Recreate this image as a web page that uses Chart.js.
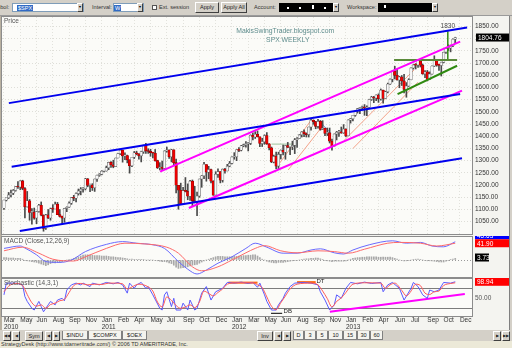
<!DOCTYPE html>
<html><head><meta charset="utf-8"><title>SPX Weekly</title>
<script src="https://cdn.jsdelivr.net/npm/chart.js@4.4.1/dist/chart.umd.min.js"></script>
<style>
*{box-sizing:border-box}
html,body{margin:0;padding:0;width:512px;height:348px;overflow:hidden;background:#d4d0c8;font-family:"Liberation Sans",Arial,sans-serif;color:#222}
.a{position:absolute}
.lbl{position:absolute;top:0;height:15px;line-height:15px;font-size:5.6px;white-space:nowrap;color:#333}
.box{position:absolute;top:3px;height:9px;border:1px solid #7f9db9;background:#fff}
.sel{position:absolute;top:1px;height:6px;background:#316ac5;color:#fff;font-size:5.6px;line-height:6px;padding:0 1px;white-space:nowrap}
.dd{position:absolute;top:3px;width:6px;height:9px;background:#d4d0c8;border:1px solid;border-color:#fff #404040 #404040 #fff;font-size:3.5px;line-height:7px;text-align:center;color:#000}
.btn{position:absolute;height:10px;background:#d4d0c8;border:1px solid;border-color:#fff #404040 #404040 #fff;font-size:5.6px;line-height:8px;text-align:center;color:#222;white-space:nowrap}
.tab{position:absolute;top:331px;height:9px;background:#f4f3ee;border:1px solid #808080;border-top:none;font-size:5.6px;line-height:8px;text-align:center;color:#222;white-space:nowrap}
.blk{position:absolute;top:3px;height:9px;background:#000}
.wd{position:absolute;top:3px;width:2px;height:2px;background:#fff}
canvas{position:absolute;left:0}
</style></head><body>
<div class="a" style="left:0;top:0;width:512px;height:16px;background:#d4d0c8;border-bottom:1px solid #9a9a9a"></div>
<div class="lbl" style="left:-11px">Symbol:</div>
<div class="box" style="left:12px;width:72px"><div class="sel" style="left:4px">$SPX</div></div>
<div class="dd" style="left:77px">&#9660;</div>
<div class="lbl" style="left:92px">Interval:</div>
<div class="box" style="left:113px;width:31px"><div class="sel" style="left:0">W</div></div>
<div class="dd" style="left:137px">&#9660;</div>
<div class="a" style="left:152px;top:5px;width:5px;height:5px;background:#fff;border:1px solid #555"></div>
<div class="lbl" style="left:159px">Ext. session</div>
<div class="btn" style="left:195px;top:2px;width:24px;height:11px;line-height:9px">Apply</div>
<div class="btn" style="left:221px;top:2px;width:26px;height:11px;line-height:9px">Apply All</div>
<div class="lbl" style="left:254px">Account:</div>
<div class="blk" style="left:279px;width:54px"><div class="wd" style="left:8px;top:4px"></div><div class="wd" style="left:20px;top:4px"></div><div class="wd" style="left:33px;top:2px;height:4px"></div><div class="wd" style="left:45px;top:4px"></div></div>
<div class="dd" style="left:333px">&#9660;</div>
<div class="lbl" style="left:347px">Workspace:</div>
<div class="blk" style="left:378px;width:54px"><div class="wd" style="left:6px;top:2px;height:3px"></div></div>
<div class="dd" style="left:432px">&#9660;</div>

<div class="a" style="left:0;top:16px;width:512px;height:314px;background:#f4f4f0"></div>
<div class="a" style="left:0;top:16px;width:2px;height:314px;background:#b8b0a0"></div>
<div class="a" style="left:509px;top:16px;width:3px;height:314px;background:#d4d0c8;border-left:1px solid #808080"></div>
<canvas id="cPrice" width="509" height="220" style="top:16px"></canvas>
<canvas id="cMacd" width="509" height="42" style="top:236px"></canvas>
<canvas id="cSto" width="509" height="52" style="top:278px"></canvas>

<div class="a" style="left:0;top:330px;width:512px;height:11px;background:#d4d0c8"></div>
<div class="btn" style="left:3px;top:331px;width:8px;font-size:3.5px">&#9664;&#9664;</div>
<div class="btn" style="left:12px;top:331px;width:8px;font-size:3.5px">&#9664;</div>
<div class="btn" style="left:25px;top:331px;width:18px">Sym</div>
<div class="btn" style="left:45px;top:331px;width:7px;font-size:3.5px">&#9664;</div>
<div class="btn" style="left:53px;top:331px;width:7px;font-size:3.5px">&#9654;</div>
<div class="tab" style="left:62px;width:26px">$INDU</div>
<div class="tab" style="left:88px;width:34px">$COMPX</div>
<div class="tab" style="left:122px;width:25px">$OEX</div>
<div class="btn" style="left:257px;top:331px;width:16px">Inv</div>
<div class="btn" style="left:274px;top:331px;width:8px;font-size:3.5px">&#9664;</div>
<div class="btn" style="left:283px;top:331px;width:8px;font-size:3.5px">&#9654;</div>
<div class="tab" style="left:293px;width:11px">D</div>
<div class="tab" style="left:304px;width:12px">3</div>
<div class="tab" style="left:316px;width:12px">5</div>
<div class="tab" style="left:328px;width:15px">10</div>
<div class="tab" style="left:343px;width:14px">15</div>
<div class="tab" style="left:357px;width:13px">30</div>
<div class="tab" style="left:370px;width:13px">60</div>
<div class="btn" style="left:493px;top:331px;width:8px;font-size:3.5px">&#9654;</div>
<div class="btn" style="left:502px;top:331px;width:8px;font-size:3.5px">&#9654;&#9654;</div>
<div class="a" style="left:0;top:341px;width:512px;height:7px;background:#ece9d8;font-size:5.5px;line-height:7px;padding-left:1px;color:#333;white-space:nowrap">StrategyDesk (http://www.tdameritrade.com/) &copy; 2006 TD AMERITRADE, Inc.</div>

<script>
// ---------- DATA (weekly SPX, week 0 = first week of Mar 2010) ----------
const opens=[1105,1138,1148,1160,1167,1178,1194,1192,1217,1186,
1111,1136,1088,1089,1065,1092,1117,1077,1023,1078,
1065,1103,1102,1122,1079,1072,1065,1104,1110,1126,
1149,1146,1165,1176,1183,1185,1226,1199,1200,1189,
1225,1240,1244,1257,1258,1271,1293,1283,1276,1311,
1329,1343,1320,1321,1304,1279,1314,1332,1328,1320,
1337,1364,1340,1338,1333,1331,1300,1271,1271,1268,
1340,1344,1316,1345,1292,1199,1179,1124,1177,1174,
1154,1216,1136,1131,1155,1225,1238,1284,1253,1264,
1216,1159,1244,1255,1220,1265,1258,1278,1289,1315,
1316,1345,1343,1361,1366,1370,1371,1404,1397,1408,
1398,1370,1378,1403,1369,1353,1295,1318,1278,1326,
1343,1335,1362,1355,1357,1363,1386,1391,1406,1418,
1411,1407,1438,1466,1460,1441,1461,1429,1433,1412,
1414,1380,1360,1409,1416,1418,1414,1430,1402,1466,
1472,1486,1503,1513,1518,1520,1516,1518,1551,1561,
1557,1569,1553,1589,1555,1582,1614,1634,1667,1650,
1631,1643,1627,1592,1606,1632,1680,1692,1692,1709,
1691,1656,1664,1633,1655,1688,1710,1692,1690,1703,
1745,1760,1762,1771,1798];
const highs=[1139,1150,1170,1180,1182,1195,1214,1218,1220,1190,
1174,1141,1104,1106,1093,1121,1131,1078,1080,1100,
1106,1120,1130,1129,1100,1073,1105,1111,1131,1149,
1158,1168,1184,1190,1190,1228,1227,1204,1206,1225,
1241,1247,1259,1260,1278,1294,1296,1302,1311,1330,
1344,1343,1332,1323,1304,1314,1338,1339,1329,1339,
1364,1371,1349,1347,1334,1346,1302,1292,1298,1341,
1356,1345,1347,1345,1307,1199,1208,1191,1231,1205,
1220,1221,1195,1171,1225,1239,1293,1284,1277,1266,
1218,1255,1267,1255,1266,1269,1285,1297,1316,1333,
1345,1354,1363,1368,1378,1375,1406,1414,1419,1422,
1398,1392,1406,1415,1370,1356,1323,1335,1335,1344,
1364,1363,1375,1357,1380,1391,1395,1407,1419,1427,
1414,1438,1474,1467,1461,1470,1465,1464,1434,1434,
1434,1389,1410,1420,1424,1438,1448,1431,1468,1473,
1486,1503,1514,1518,1524,1530,1525,1552,1564,1564,
1570,1574,1594,1589,1585,1618,1636,1668,1687,1674,
1646,1649,1654,1620,1636,1681,1694,1698,1710,1709,
1696,1669,1670,1664,1689,1730,1711,1696,1704,1745,
1760,1775,1774,1799,1806];
const lows=[1100,1135,1145,1152,1161,1175,1186,1181,1181,1066,
1110,1056,1040,1060,1042,1089,1074,1011,1018,1063,
1056,1088,1102,1079,1069,1040,1048,1091,1109,1121,
1136,1131,1159,1160,1171,1180,1193,1173,1178,1174,
1215,1236,1242,1254,1257,1263,1272,1271,1276,1311,
1325,1294,1304,1291,1249,1276,1309,1324,1306,1295,
1330,1330,1330,1318,1311,1298,1268,1262,1263,1266,
1335,1309,1295,1283,1168,1101,1120,1122,1172,1140,
1137,1114,1127,1075,1150,1191,1226,1216,1226,1209,
1158,1159,1231,1209,1212,1249,1258,1275,1287,1306,
1300,1337,1340,1357,1355,1340,1366,1385,1391,1397,
1358,1358,1367,1367,1344,1292,1291,1267,1266,1307,
1324,1306,1354,1325,1345,1329,1354,1391,1397,1398,
1397,1397,1425,1449,1431,1433,1425,1428,1403,1403,
1373,1343,1360,1385,1399,1412,1412,1398,1402,1454,
1463,1482,1495,1493,1513,1486,1485,1514,1547,1538,
1546,1539,1548,1536,1555,1578,1613,1623,1635,1630,
1599,1608,1578,1560,1604,1632,1675,1676,1682,1684,
1654,1640,1627,1633,1655,1686,1687,1670,1647,1701,
1740,1752,1746,1767,1780];
const closes=[1138.7,1150.0,1159.9,1166.6,1178.1,1194.4,1192.1,1217.3,1186.7,1110.9,
1135.7,1087.7,1089.4,1064.9,1091.6,1117.5,1076.8,1022.6,1078.0,1064.9,
1102.7,1101.6,1121.6,1079.3,1071.7,1064.6,1104.5,1109.6,1125.6,1148.7,
1146.2,1165.2,1176.2,1183.1,1183.3,1225.9,1199.2,1199.7,1189.4,1224.7,
1240.4,1243.9,1256.8,1257.6,1271.5,1293.2,1283.4,1276.3,1310.9,1329.2,
1343.0,1319.9,1321.2,1304.3,1279.2,1313.8,1332.4,1328.2,1319.7,1337.4,
1363.6,1340.2,1337.8,1333.3,1331.1,1300.2,1271.0,1271.5,1268.5,1339.7,
1343.8,1316.1,1345.0,1292.3,1199.4,1178.8,1123.5,1176.8,1174.0,1154.2,
1216.0,1136.4,1131.4,1155.5,1224.6,1238.3,1285.1,1253.2,1263.9,1216.0,
1158.7,1244.3,1255.2,1219.7,1265.3,1257.6,1277.8,1289.1,1315.4,1316.3,
1344.9,1342.6,1361.2,1365.7,1369.6,1370.9,1404.2,1397.1,1408.5,1398.1,
1370.3,1378.5,1403.4,1369.1,1353.4,1295.2,1317.8,1278.0,1325.7,1342.8,
1335.0,1362.2,1354.7,1356.8,1362.7,1386.0,1391.0,1405.9,1418.2,1411.1,
1406.6,1437.9,1465.8,1460.2,1440.7,1460.9,1428.6,1433.2,1411.9,1414.2,
1379.9,1359.9,1409.2,1416.2,1418.1,1413.6,1430.2,1402.4,1466.5,1472.1,
1486.0,1503.0,1513.2,1517.9,1519.8,1515.6,1518.2,1551.2,1560.7,1556.9,
1569.2,1553.3,1588.9,1555.3,1582.2,1614.4,1633.7,1667.5,1649.6,1630.7,
1643.4,1626.7,1592.4,1606.3,1631.9,1680.2,1692.1,1691.7,1709.7,1691.4,
1655.8,1663.5,1633.0,1655.2,1688.0,1709.9,1691.8,1690.5,1703.2,1744.5,
1759.8,1761.6,1770.6,1798.2,1804.76];

const priceTicks=[1050,1100,1150,1200,1250,1300,1350,1400,1450,1500,1550,1600,1650,1700,1750,1800,1850];
const tickWeeks=[0,7,14,21,28,35,42,49,56,63,70,77,84,91,98,105,112,119,126,133,140,147,154,161,168,175,182,189,196];
const tickMonths=['Mar','May','Jun','Aug','Sep','Nov','Jan','Feb','Apr','May','Jul','Sep','Oct','Dec','Jan','Mar','May','Jun','Aug','Sep','Nov','Jan','Feb','Apr','Jun','Jul','Sep','Oct','Dec'];
const tickYears=['2010','','','','','','2011','','','','','','','','2012','','','','','','','2013','','','','','','',''];

// trend lines drawn on the chart: [week, price]
const blueUpper=[[2.1,1536],[199.1,1846]];
const blueMiddle=[[3.3,1275],[196.1,1573]];
const blueLower=[[6.8,1012],[196.9,1310]];
const magentaUpper=[[67.1,1255],[196.1,1788]];
const magentaLower=[[79.5,1106],[196.9,1587]];
const greenRising=[[169.2,1573],[194.8,1689]];
const greenFlat=[[167.7,1713],[194.8,1713]];
const greenTarget=[[190.8,1713],[190.8,1830]];
const salmonA1=[[117.9,1282],[132.1,1467]];
const salmonA2=[[122.2,1262],[136.3,1434]];
const salmonB1=[[146.4,1385],[176.3,1672]];
const salmonB2=[[150,1350],[178,1622]];
const paleGreenFlat=[[115,1368],[125.6,1368]];
const grayDown=[[135,1467],[140.5,1413]];

// MACD (12,26,9): [week, value]
const macdLine=[[0,29],[7,35],[9,30],[14,13],[18,-4],[24,-6],[29,0],[35,21],[44,39],[51,46],[57,42],[64,38],[69,29],[75,-4],[79,-23],[83,-35],[87,-25],[92,-8],[98,8],[104,29],[108,42],[113,32],[120,17],[126,17],[132,25],[136,28],[142,18],[146,15],[150,25],[157,38],[167,48],[173,42],[179,44],[184,35],[189,33],[194,45.6]];
const macdSignal=[[0,23],[8,32],[15,17],[21,2],[30,-2.5],[35,8],[44,29],[52,42],[61,40],[70,32],[75,17],[81,-17],[85,-27],[92,-17],[98,0],[104,18],[108,29],[112,36],[119,23],[126,18],[135,23],[142,21],[148,17],[155,27],[165,42],[170,44],[179,42],[186,35],[194,41.9]];
const macdHist=[6,6,5,5,5,4,4,
4,2,-1,-2,-3,-4,-5,
-6,-8,-10,-12,-14,-12,-9,
-7,-7,-6,-6,-4,-2,0,
1,2,4,6,8,10,12,
13,13,12,12,11,11,11,
10,10,10,9,8,8,7,
6,6,5,4,3,2,2,
1,1,1,1,1,0,0,
0,0,-1,-2,-3,-4,-4,
-5,-7,-9,-13,-18,-21,-20,
-19,-18,-17,-15,-13,-12,-11,
-8,-5,-2,0,2,4,6,
8,9,9,9,8,8,8,
8,9,9,10,10,11,11,
12,12,13,13,10,6,2,
0,-3,-5,-6,-7,-7,-6,
-6,-6,-5,-4,-3,-2,-1,
-1,0,1,2,3,3,4,
4,5,5,3,1,-1,-2,
-3,-4,-3,-3,-3,-3,-3,
-2,0,2,4,5,6,6,
7,7,8,8,8,8,8,
7,7,7,7,7,7,6,
4,2,0,-1,-2,-2,-1,
0,1,2,2,1,0,-1,
-2,-2,-2,-3,-4,-5,-5,
-5,-3,-1,1,2,4];

// Stochastic (14,3,1): [week, value]
const stochK=[[0,61],[1,95],[5,95],[8,90],[9,56],[10,42],[12,22],[13,17],[15,42],[16,27],[17,12],[19,32],[20,42],[22,32],[23,46],[25,51],[26,44],[27,75],[29,90],[31,95],[33,90],[34,95],[37,85],[38,95],[41,90],[44,97],[47,93],[49,97],[51,90],[53,66],[54,95],[56,80],[57,90],[59,97],[61,80],[62,85],[64,61],[67,22],[68,17],[69,61],[70,70],[72,27],[73,51],[74,17],[76,17],[77,37],[79,17],[80,46],[82,17],[83,22],[85,66],[87,85],[89,46],[91,70],[94,80],[96,97],[99,95],[102,98],[105,94],[107,97],[109,83],[110,95],[112,61],[113,42],[115,17],[117,17],[118,32],[120,51],[121,66],[123,85],[125,95],[129,97],[132,95],[135,90],[136,70],[138,46],[140,17],[142,32],[143,61],[145,51],[147,80],[149,97],[152,93],[155,98],[158,94],[162,97],[163,70],[165,90],[167,97],[170,80],[172,46],[175,80],[176,97],[178,85],[180,61],[182,51],[183,75],[185,70],[187,75],[189,97],[192,95],[194,98.94]];
const stochD=[[0,70],[2,86],[5,94],[8,88],[10,62],[12,38],[14,28],[16,32],[18,22],[20,33],[22,37],[24,44],[26,48],[28,68],[30,88],[33,94],[36,90],[39,92],[42,91],[45,95],[48,95],[51,93],[53,78],[55,84],[58,92],[60,90],[62,84],[64,72],[66,40],[68,26],[70,55],[72,45],[74,30],[76,22],[78,26],[80,32],[82,24],[84,40],[86,72],[88,65],[90,58],[92,68],[94,78],[96,92],[100,96],[107,96],[109,90],[111,82],[113,55],[115,28],[117,18],[119,38],[121,58],[123,78],[126,92],[132,95],[135,90],[137,72],[139,50],[141,26],[143,42],[145,52],[147,68],[150,92],[155,96],[162,95],[164,80],[166,90],[168,95],[171,74],[173,58],[175,72],[177,92],[179,88],[181,66],[183,62],[185,70],[187,72],[189,88],[192,94],[194,96]];
const stochLevels=[20,50,80];
const stochTrend=[[140.1,12],[198.1,63.5]];
const stochTopA=[[96.5,96.5],[109,96.5]];
const stochTopB=[[126,98],[134,98]];
const stochDB=[[114.8,7.5],[119.6,7.5]];

// ---------- CHARTS ----------
const FONT='"Liberation Sans", Arial, sans-serif';
Chart.defaults.font.family=FONT;
const X_MIN=-0.85, X_MAX=201.2;
const pts=a=>a.map(([x,y])=>({x,y}));
const seg=(a,color,w,extra)=>Object.assign({type:'line',data:pts(a),borderColor:color,borderWidth:w,pointRadius:0,fill:false,tension:0,order:0},extra||{});

const decor={
  id:'decor',
  beforeDraw(chart){
    const {ctx,chartArea:a}=chart;
    ctx.save();ctx.fillStyle='#fbfbf8';ctx.fillRect(a.left,a.top,a.right-a.left,a.bottom-a.top);ctx.restore();
  },
  afterDraw(chart,args,o){
    const {ctx,chartArea:a,scales}=chart;
    ctx.save();
    ctx.strokeStyle='#8c8c8c';ctx.lineWidth=1;
    ctx.strokeRect(Math.round(a.left)-0.5,Math.round(a.top)-0.5,Math.round(a.right-a.left)+1,Math.round(a.bottom-a.top)+1);
    if(o.title){ctx.font='6.5px '+FONT;ctx.fillStyle='#555';ctx.textAlign='left';ctx.textBaseline='top';ctx.fillText(o.title,a.left+2,a.top+1);}
    (o.notes||[]).forEach(n=>{
      const x=scales.x.getPixelForValue(n.x),y=scales.y.getPixelForValue(n.y);
      ctx.font=(n.size||6.5)+'px '+FONT;ctx.fillStyle=n.color||'#333';
      ctx.textAlign=n.align||'center';ctx.textBaseline=n.base||'middle';
      ctx.fillText(n.text,x,y+(n.dy||0));
    });
    (o.boxes||[]).forEach(b=>{
      const yc=scales.y.getPixelForValue(b.value)+(b.dy||0);
      const h=8;
      ctx.fillStyle=b.bg;ctx.fillRect(b.x1,yc-h/2,b.x2-b.x1,h);
      ctx.fillStyle=b.fg;ctx.font='6.5px '+FONT;ctx.textAlign='left';ctx.textBaseline='middle';
      ctx.fillText(b.text,b.x1+2,yc+0.5);
    });
    ctx.restore();
  }
};

const xHidden=(grid)=>({type:'linear',min:X_MIN,max:X_MAX,offset:false,
  grid:Object.assign({offset:false,drawTicks:false},grid),border:{display:false,dash:[1,2]},
  ticks:{display:false},
  afterBuildTicks:s=>{s.ticks=tickWeeks.map(v=>({value:v}));},
  afterFit:s=>{s.height=0;s.paddingLeft=0;s.paddingRight=0;}});
const base={animation:false,responsive:false,devicePixelRatio:1,events:[]};

// Price panel
const last=closes.length-1;
new Chart(document.getElementById('cPrice'),{
  type:'bar',
  data:{datasets:[
    seg(blueUpper,'#0000ee',2),seg(blueMiddle,'#0000ee',2),seg(blueLower,'#0000ee',2),
    seg(magentaUpper,'#ff00ff',2),seg(magentaLower,'#ff00ff',2),
    seg(greenRising,'#2f8a10',2),seg(greenFlat,'#5a8a3a',2),seg(greenTarget,'#2f8a10',1.5),
    seg(salmonA1,'#f4a38a',1,{order:4}),seg(salmonA2,'#f4a38a',1,{order:4}),
    seg(salmonB1,'#f4a38a',1,{order:4}),seg(salmonB2,'#f4a38a',1,{order:4}),
    seg(paleGreenFlat,'#9cc49c',1,{order:4}),seg(grayDown,'#8c8cd0',1,{order:4}),
    {type:'bar',data:closes.map((c,i)=>({x:i,y:[lows[i],highs[i]]})),backgroundColor:'#4a4a4a',barThickness:1,grouped:false,order:3},
    {type:'bar',data:closes.map((c,i)=>({x:i,y:[opens[i],c]})),
     backgroundColor:closes.map((c,i)=>c>=opens[i]?'#f7f7f7':'#ee0000'),
     borderColor:closes.map((c,i)=>c>=opens[i]?'#6a6a6a':'#9a0000'),
     borderWidth:0.6,borderSkipped:false,barThickness:2.6,minBarLength:1,grouped:false,order:2}
  ]},
  options:Object.assign({},base,{
    layout:{padding:{left:2,right:0,top:1,bottom:2}},
    scales:{
      x:xHidden({color:'#e2e2dc'}),
      y:{type:'linear',position:'right',min:999.6,max:1888.9,
        grid:{color:'#dedeD8',drawTicks:false},border:{display:false,dash:[1,2]},
        ticks:{padding:3,color:'#333',font:{size:6.5},callback:v=>Number(v).toFixed(2)},
        afterBuildTicks:s=>{s.ticks=priceTicks.map(v=>({value:v}));},
        afterFit:s=>{s.width=37;s.paddingTop=0;s.paddingBottom=0;}}
    },
    plugins:{legend:{display:false},tooltip:{enabled:false},
      decor:{title:'Price',
        notes:[
          {x:120.9,y:1829,text:'MakisSwingTrader.blogspot.com',color:'#5e8c8c',size:6.8},
          {x:122,y:1796,text:'SPX WEEKLY',color:'#5e8c8c',size:6.8},
          {x:190.8,y:1830,text:'1830',color:'#444',size:6.5,base:'bottom',dy:-1.5}
        ],
        boxes:[{value:closes[last],text:closes[last].toFixed(2),bg:'#000',fg:'#fff',x1:476,x2:509}]}}
  }),
  plugins:[decor]
});

// MACD panel
new Chart(document.getElementById('cMacd'),{
  type:'bar',
  data:{datasets:[
    {type:'bar',data:macdHist.map((v,i)=>({x:i,y:v})),backgroundColor:'#a8a8a8',barThickness:1,grouped:false,order:3},
    seg(macdSignal,'#ff6a6a',1,{tension:0.4,cubicInterpolationMode:'monotone'}),
    seg(macdLine,'#6a6aff',1,{tension:0.4,cubicInterpolationMode:'monotone'})
  ]},
  options:Object.assign({},base,{
    layout:{padding:{left:2,right:0,top:1,bottom:1}},
    scales:{
      x:xHidden({display:false}),
      y:{type:'linear',position:'right',min:-42.5,max:57.5,
        grid:{color:'#9a9a9a',drawTicks:false},border:{display:false,dash:[1,2]},
        ticks:{display:false},
        afterBuildTicks:s=>{s.ticks=[{value:0}];},
        afterFit:s=>{s.width=37;s.paddingTop=0;s.paddingBottom=0;}}
    },
    plugins:{legend:{display:false},tooltip:{enabled:false},
      decor:{title:'MACD (Close,12,26,9)',
        boxes:[
          {value:41.9,dy:-8,text:'45.63',bg:'#0000ff',fg:'#fff',x1:475,x2:509},
          {value:41.9,text:'41.90',bg:'#ff0000',fg:'#fff',x1:475,x2:509},
          {value:3.73,dy:-1,text:'3.73',bg:'#000',fg:'#fff',x1:475,x2:489}
        ]}}
  }),
  plugins:[decor]
});

// Stochastic panel + date axis
new Chart(document.getElementById('cSto'),{
  type:'line',
  data:{datasets:[
    seg(stochD,'#ff5a5a',1,{tension:0.3,cubicInterpolationMode:'monotone'}),
    seg(stochK,'#5a5aff',1),
    seg(stochTrend,'#ff00ff',2),
    seg(stochTopA,'#ff6a10',2),seg(stochTopB,'#ff6a10',2),
    seg(stochDB,'#000',1)
  ]},
  options:Object.assign({},base,{
    layout:{padding:{left:2,right:0,top:1,bottom:0}},
    scales:{
      x:{type:'linear',min:X_MIN,max:X_MAX,offset:false,
        grid:{display:false,drawTicks:false,offset:false},border:{display:false},
        ticks:{autoSkip:false,maxRotation:0,minRotation:0,align:'start',padding:1,color:'#333',
          font:{size:6.5,lineHeight:1},
          callback:(v,i)=>tickYears[i]?[tickMonths[i],tickYears[i]]:tickMonths[i]},
        afterBuildTicks:s=>{s.ticks=tickWeeks.map(v=>({value:v}));},
        afterFit:s=>{s.height=14;s.paddingLeft=0;s.paddingRight=0;}},
      y:{type:'linear',position:'right',min:-0.3,max:107,
        grid:{drawTicks:false,color:c=>c.tick&&c.tick.value===50?'rgba(0,0,0,0)':'#7c7c7c'},border:{display:false},
        ticks:{padding:3,color:'#555',font:{size:6.5},callback:v=>v===50?'50.00':''},
        afterBuildTicks:s=>{s.ticks=stochLevels.map(v=>({value:v}));},
        afterFit:s=>{s.width=37;s.paddingTop=0;s.paddingBottom=0;}}
    },
    plugins:{legend:{display:false},tooltip:{enabled:false},
      decor:{title:'Stochastic (14,3,1)',
        notes:[
          {x:134.3,y:99,text:'DT',color:'#222',size:6,align:'left'},
          {x:120.2,y:14,text:'DB',color:'#222',size:6,align:'left'}
        ],
        boxes:[{value:98.94,text:'98.94',bg:'#ff0000',fg:'#fff',x1:475,x2:509}]}}
  }),
  plugins:[decor]
});
</script>
</body></html>
